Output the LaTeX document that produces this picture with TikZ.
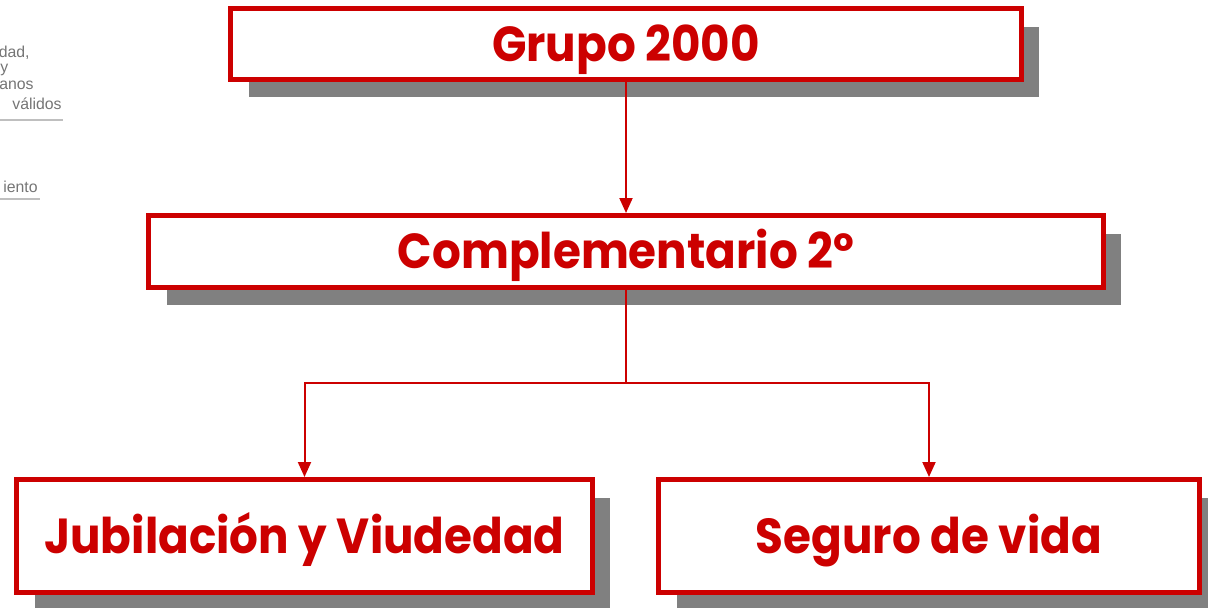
\documentclass[tikz,border=0pt]{standalone}
\usepackage{fontspec}
\setmainfont{Poppins}[FakeStretch=0.92]
\newfontfamily\notefont{Liberation Sans}
\usepackage{xcolor}
\usetikzlibrary{arrows.meta,calc,positioning,shadows}
\definecolor{boxred}{HTML}{CC0000}
\definecolor{shadowgray}{HTML}{808080}
\definecolor{notegray}{HTML}{757575}

\begin{document}
\begin{tikzpicture}[x=0.02cm,y=-0.02cm,
redbox/.style={rectangle, draw=boxred, fill=white, line width=0.1cm, inner sep=0pt,
  text=boxred, font=\fontsize{28}{32}\selectfont\bfseries, text height=19.8pt, text depth=0pt,
  general shadow={shadow xshift=0.36cm, shadow yshift=-0.36cm, fill=shadowgray, opacity=1}},
link/.style={draw=boxred, line width=0.04cm, -{Triangle[width=0.26cm,length=0.3cm]}},
note/.style={anchor=base east, inner sep=0pt, text=notegray, font=\notefont\fontsize{9}{10}\selectfont},
]
\useasboundingbox (0,0) rectangle (1208,608);

%Notes
\node[note] (n1) at (30,58) {dad,};
\node[note, anchor=base west] (n2) at (0,73) {y};
\node[note] (n3) at (34,90) {anos};
\node[note] (n4) at (62,110) {válidos};
\node[note] (n5) at (38,193) {iento};
\draw[black!25, line width=0.6pt] (0,120) -- (63,120);
\draw[black!25, line width=0.6pt] (0,199) -- (40,199);

%Nodes
\node[redbox, minimum width=15.82cm, minimum height=1.42cm] (grupo)  at (626,44)    {Grupo 2000};
\node[redbox, minimum width=19.1cm,  minimum height=1.44cm] (compl)  at (626,251.5) {Complementario 2º};
\node[redbox, minimum width=11.52cm, minimum height=2.26cm] (jubil)  at (304.5,536) {Jubilación y Viudedad};
\node[redbox, minimum width=10.82cm, minimum height=2.26cm] (seguro) at (929,536)   {Seguro de vida};
\coordinate (split) at (626,383);

%Lines
\draw[link] (grupo) -- (compl);
\draw[draw=boxred, line width=0.04cm] (compl) -- (split);
\draw[link] (split) -| (jubil);
\draw[link] (split) -| (seguro);
\end{tikzpicture}
\end{document}
